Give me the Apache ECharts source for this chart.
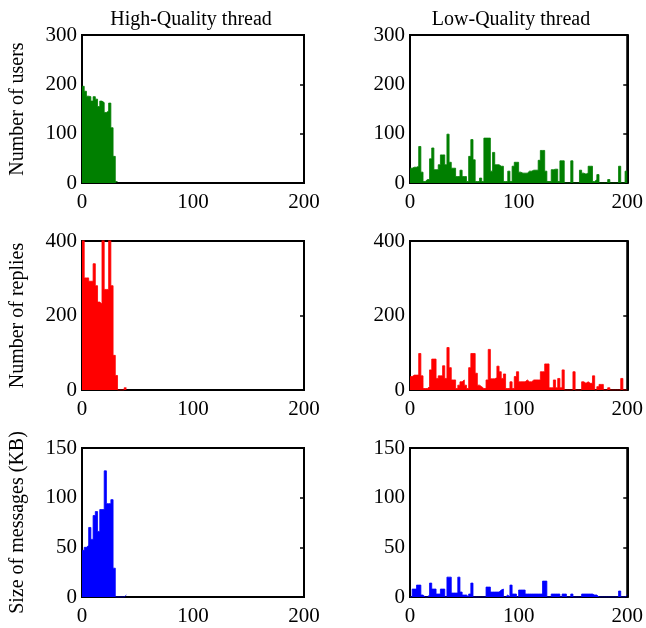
<!DOCTYPE html>
<html><head><meta charset="utf-8">
<script src="https://cdn.jsdelivr.net/npm/echarts@6/dist/echarts.min.js"></script>
<style>html,body{margin:0;padding:0;background:#fff}#c{width:646px;height:628px}</style>
</head><body><div id="c"></div>
<script>
// histogram bins: bin k covers [k*binWidth, (k+1)*binWidth)
const binWidth = 2;
const xMin = 0, xMax = 200, xInterval = 100;
const columnTitles = ['High-Quality thread', 'Low-Quality thread'];
const rowNames = ['Number of users', 'Number of replies', 'Size of messages (KB)'];
const rowMax = [300, 400, 150];
const rowInterval = [100, 200, 50];
const rowColors = ['#007f00', '#ff0000', '#0000ff'];

// High-quality thread
const hqUsers = [196,186,176,175,166,175,170,155,166,163,143,146,162,112,54,3];
const hqReplies = [420,301,301,292,292,339,280,236,231,420,270,270,420,280,93,39,0,0,0,6];
const hqSize = [47,50,52,70,58,82,86,66,88,88,127,94,94,98,29,0,0,0,0,2];

// Low-quality thread
const lqUsers = [30,32,32,34,74,22,3,7,7,49,71,27,27,37,57,57,37,99,42,30,
  30,13,13,26,13,13,3,54,88,47,3,3,10,3,91,91,91,24,62,37,
  37,34,34,3,3,24,3,34,42,42,22,20,20,20,24,24,26,26,26,46,
  66,66,24,3,3,27,28,28,3,45,45,0,0,0,45,0,0,0,26,20,
  18,20,34,34,3,7,17,0,0,0,0,7,0,0,0,0,34,0,0,24];
const lqReplies = [36,40,40,40,98,38,4,4,9,54,83,83,31,38,38,65,31,114,60,27,
  27,4,13,22,27,13,4,60,98,98,45,13,9,4,4,27,109,30,30,33,
  64,49,31,43,4,4,22,4,36,49,22,22,22,27,22,22,27,27,27,27,
  49,49,70,70,6,6,27,6,31,6,54,0,0,0,0,49,0,0,0,22,
  18,22,18,18,38,0,9,15,15,0,0,6,0,0,0,0,0,31,0,0];
const lqSize = [0,8,8,12,12,2,0,0,2,14,8,8,3,3,8,8,0,20,20,4,
  4,4,20,5,2,2,0,3,14,0,0,0,0,0,0,10,10,5,5,5,
  5,7,8,0,2,0,12,3,3,0,7,7,7,3,3,3,3,3,3,3,
  3,16,16,0,0,3,3,3,3,0,3,3,0,0,3,0,0,0,0,3,
  3,3,3,3,2,2,0,0,0,0,0,0,0,0,0,0,6,0,0,2];

const panelData = [[hqUsers, lqUsers], [hqReplies, lqReplies], [hqSize, lqSize]];

const FONT = 'Liberation Serif';
const colLeft = [82, 410];
const colWidth = 222;
const rowTop = [35, 241, 448];
const rowHeight = [148, 149, 149];
const titleCenter = [186, 506];

// histogram outline: one point at each bin's left edge, plus the closing right edge
function histPoints(vals) {
  const pts = vals.map((v, k) => [k * binWidth, v]);
  pts.push([vals.length * binWidth, vals[vals.length - 1]]);
  return pts;
}

const grids = [], xAxes = [], yAxes = [], series = [];
for (let r = 0; r < 3; r++) {
  for (let c = 0; c < 2; c++) {
    const gi = grids.length;
    grids.push({left: colLeft[c], top: rowTop[r], width: colWidth, height: rowHeight[r],
      show: true, borderColor: '#000', borderWidth: 2, backgroundColor: 'transparent'});
    xAxes.push({gridIndex: gi, type: 'value', min: xMin, max: xMax, interval: xInterval,
      axisLine: {show: true, onZero: false, lineStyle: {color: '#000', width: 2}},
      axisTick: {show: false}, splitLine: {show: false},
      axisLabel: {color: '#000', fontFamily: FONT, fontSize: 21, margin: 9}});
    yAxes.push({gridIndex: gi, type: 'value', min: 0, max: rowMax[r], interval: rowInterval[r],
      position: 'left',
      axisLine: {show: true, onZero: false, lineStyle: {color: '#000', width: 2}},
      axisTick: {show: false}, splitLine: {show: false},
      axisLabel: {color: '#000', fontFamily: FONT, fontSize: 21, margin: 5},
      name: c === 0 ? rowNames[r] : '', nameLocation: 'middle', nameGap: 54,
      nameTextStyle: {color: '#000', fontFamily: FONT, fontSize: 20}});
    yAxes.push({gridIndex: gi, type: 'value', min: 0, max: rowMax[r], interval: rowInterval[r],
      position: 'right',
      axisLine: {show: true, onZero: false, lineStyle: {color: '#000', width: 2}},
      axisTick: {show: true, inside: true, length: 4, lineStyle: {color: '#000', width: 1.5}},
      splitLine: {show: false}, axisLabel: {show: false}});
    series.push({type: 'line', xAxisIndex: gi, yAxisIndex: gi * 2,
      step: 'end', showSymbol: false, symbol: 'none', silent: true, clip: true,
      lineStyle: {color: rowColors[r], width: 0.8},
      areaStyle: {color: rowColors[r], opacity: 1},
      itemStyle: {color: rowColors[r]},
      z: 1,
      data: histPoints(panelData[r][c])});
  }
}

const titles = columnTitles.map((t, c) => ({text: t, left: titleCenter[c], top: 5, textAlign: 'center',
  textStyle: {color: '#000', fontFamily: FONT, fontSize: 20, fontWeight: 'normal'}}));

const chart = echarts.init(document.getElementById('c'), null, {renderer: 'canvas'});
chart.setOption({animation: false, backgroundColor: '#fff', title: titles,
  grid: grids, xAxis: xAxes, yAxis: yAxes, series: series});
</script></body></html>
